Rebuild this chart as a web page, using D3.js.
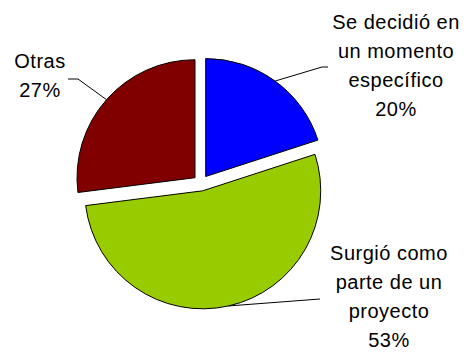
<!DOCTYPE html>
<html>
<head>
<meta charset="utf-8">
<script src="https://cdn.jsdelivr.net/npm/d3@7"></script>
<style>
  body { margin: 0; background: #fff; }
  svg { display: block; }
</style>
</head>
<body>
<div id="chart"></div>
<script>
// Chart data
const categories = ["Se decidió en un momento específico", "Surgió como parte de un proyecto", "Otras"];
const values = [20, 53, 27];
const labelLines = [
    ["Se decidió en", "un momento", "específico", "20%"],
    ["Surgió como", "parte de un", "proyecto", "53%"],
    ["Otras", "27%"]
];
const colors = ["#0000ff", "#99cc00", "#800000"];

const width = 468,
      height = 358;

// layout
const cx = 201, cy = 183, radius = 118, explode = 8;
const lineHeight = 29;
// label anchor (center x, first baseline) and leader elbow per slice
const labelPos = [
    { x: 396, y: 29, elbow: [[322, 67], [328, 67]] },
    { x: 389, y: 260, elbow: [[320, 299]] },
    { x: 40, y: 68, elbow: [[78, 79], [68, 79]] }
];

let svg = d3.select("#chart")
            .append("svg")
            .attr("width", width)
            .attr("height", height);

const pie = d3.pie().sort(null).value(d => d)
              .startAngle(0).endAngle(2 * Math.PI);
const arcs = pie(values);
const arc = d3.arc().innerRadius(0).outerRadius(radius);

// each slice is pushed out along its mid angle
const offset = d => {
    let a = (d.startAngle + d.endAngle) / 2;
    return [Math.sin(a) * explode, -Math.cos(a) * explode];
};

let g = svg.append("g").attr("transform", `translate(${cx},${cy})`);

g.selectAll("path.slice")
 .data(arcs)
 .enter()
 .append("path")
   .attr("class", "slice")
   .attr("transform", d => `translate(${offset(d)})`)
   .attr("d", arc)
   .attr("fill", (d, i) => colors[i])
   .attr("stroke", "#000")
   .attr("stroke-width", 1)
   .attr("stroke-linejoin", "round");

// leader lines start on the arc at mid angle
svg.selectAll("path.leader")
   .data(arcs)
   .enter()
   .append("path")
     .attr("class", "leader")
     .attr("fill", "none")
     .attr("stroke", "#000")
     .attr("stroke-width", 1)
     .attr("d", (d, i) => {
        let a = (d.startAngle + d.endAngle) / 2;
        let o = offset(d);
        let sx = cx + o[0] + Math.sin(a) * radius,
            sy = cy + o[1] - Math.cos(a) * radius;
        let pts = [[sx, sy], ...labelPos[i].elbow];
        return d3.line()(pts);
     });

// labels
svg.selectAll("text.label")
   .data(arcs)
   .enter()
   .append("text")
     .attr("class", "label")
     .attr("text-anchor", "middle")
     .style("font", "20px 'Liberation Sans', Arial, sans-serif")
     .style("letter-spacing", "0.5px")
     .attr("fill", "#000")
     .each(function(d, i) {
        let t = d3.select(this);
        labelLines[i].forEach((line, j) => {
            t.append("tspan")
             .attr("x", labelPos[i].x)
             .attr("y", labelPos[i].y + j * lineHeight)
             .text(line);
        });
     });
</script>
</body>
</html>
